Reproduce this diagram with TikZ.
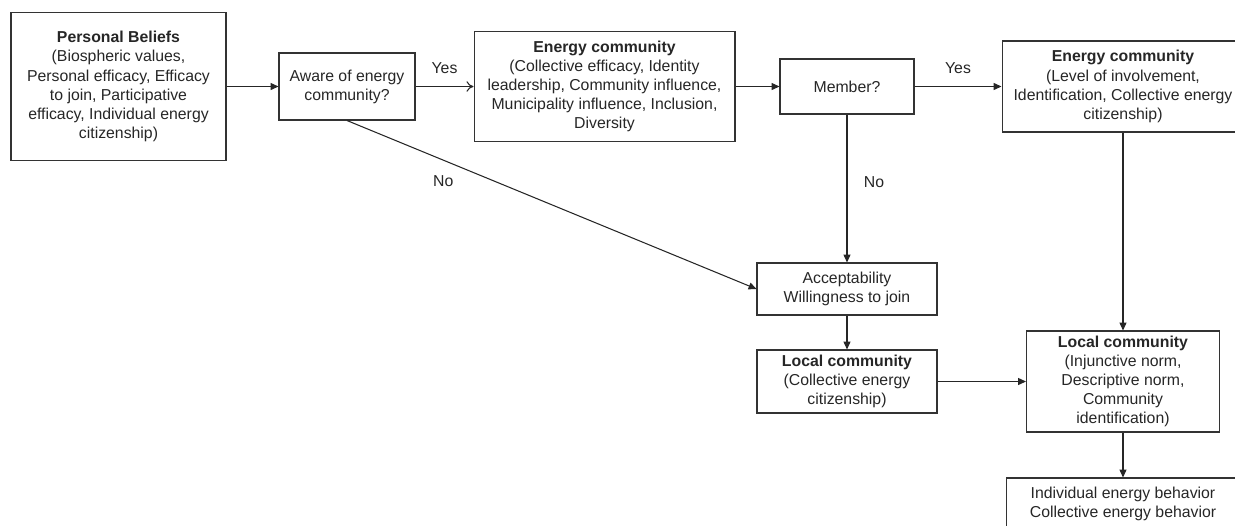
\documentclass[tikz,border=0pt]{standalone}
\usepackage{fontspec}
\setmainfont{Liberation Sans}
\usetikzlibrary{arrows.meta}

\tikzset{
  box/.style={draw=black!80, line width=0.6pt, align=center, text=black!85, inner sep=1pt, font=\fontsize{9}{10.9}\selectfont},
  link/.style={draw=black!85, line width=0.6pt, -{Triangle[length=4.5pt,width=4pt]}},
  openlink/.style={draw=black!85, line width=0.6pt, -{To[length=4pt,width=6pt]}},
  lbl/.style={text=black!85, font=\fontsize{9}{10.9}\selectfont}
}

\begin{document}
\begin{tikzpicture}[x=0.02cm, y=-0.02cm]
  %%%%% FRAME %%%%%
  \clip (0,0) rectangle (1235,525);

  %%%%% BOXES %%%%%
  \node[box, minimum width=4.3cm, minimum height=2.96cm] (beliefs) at (118.5,86.5)
    {\textbf{Personal Beliefs}\\(Biospheric values,\\Personal efficacy, Efficacy\\to join, Participative\\efficacy, Individual energy\\citizenship)};
  \node[box, minimum width=2.72cm, minimum height=1.34cm] (aware) at (347,86.5)
    {Aware of energy\\community?};
  \node[box, minimum width=5.22cm, minimum height=2.2cm] (ecom) at (604.5,86.5)
    {\textbf{Energy community}\\(Collective efficacy, Identity\\leadership, Community influence,\\Municipality influence, Inclusion,\\Diversity};
  \node[box, minimum width=2.68cm, minimum height=1.1cm] (member) at (847,86.5)
    {Member?};
  \node[box, minimum width=4.84cm, minimum height=1.82cm] (ecomb) at (1123,86.5)
    {\textbf{Energy community}\\(Level of involvement,\\Identification, Collective energy\\citizenship)};
  \node[box, minimum width=3.6cm, minimum height=1.04cm] (accept) at (847,289)
    {Acceptability\\Willingness to join};
  \node[box, minimum width=3.6cm, minimum height=1.26cm] (local) at (847,381.5)
    {\textbf{Local community}\\(Collective energy\\citizenship)};
  \node[box, minimum width=3.86cm, minimum height=2.02cm] (localb) at (1123,381.5)
    {\textbf{Local community}\\(Injunctive norm,\\Descriptive norm,\\Community\\identification)};
  \node[box, minimum width=4.68cm, minimum height=1.04cm] (behav) at (1123,504)
    {Individual energy behavior\\Collective energy behavior};

  %%%%% ARROWS %%%%%
  \draw[link] (beliefs) -- (aware);
  \draw[openlink] (aware) -- node[lbl, above=3.5pt] (yesa) {Yes} (ecom);
  \draw[link] (aware.south) -- node[lbl, pos=.235, yshift=-0.42cm] (noa) {No} (accept.west);
  \draw[link] (ecom) -- (member);
  \draw[link] (member) -- node[lbl, above=3.5pt] (yesb) {Yes} (ecomb);
  \draw[link] (member) -- node[lbl, pos=.46, xshift=0.54cm] (nob) {No} (accept);
  \draw[link] (accept) -- (local);
  \draw[link] (ecomb) -- (localb);
  \draw[link] (local) -- (localb);
  \draw[link] (localb) -- (behav);
\end{tikzpicture}
\end{document}
